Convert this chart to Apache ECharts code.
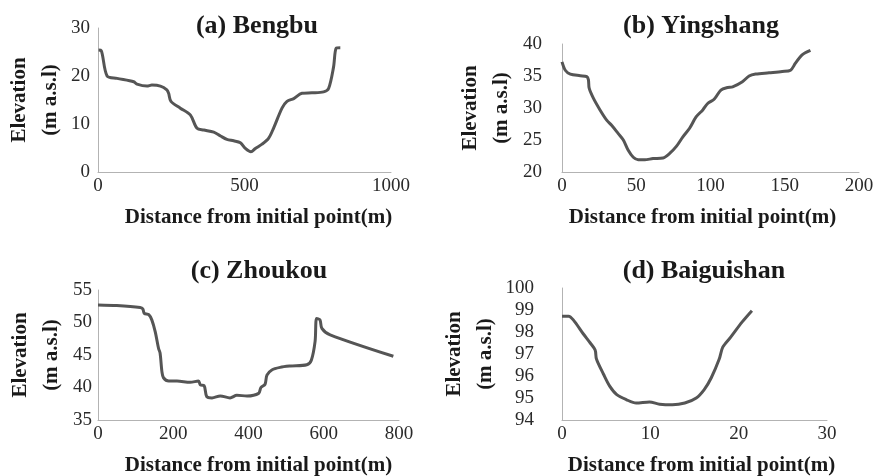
<!DOCTYPE html>
<html>
<head>
<meta charset="utf-8">
<script src="https://cdn.jsdelivr.net/npm/echarts@6/dist/echarts.min.js"></script>
<style>html,body{margin:0;padding:0;background:#fff}#c{width:874px;height:476px}</style>
</head>
<body>
<div id="c"></div>
<script>
// (a) Bengbu
var bengbuDist = [2, 11, 31, 65, 122, 133, 167, 184, 213, 235, 241, 249, 281, 315, 338, 361, 395, 418, 440, 463, 486, 503, 522, 537, 560, 582, 599, 628, 645, 668, 696, 730, 770, 787, 804, 813, 827];
var bengbuElev = [25.4, 25.3, 20.0, 19.5, 18.8, 18.3, 17.9, 18.1, 17.9, 17.1, 16.4, 14.7, 13.3, 11.9, 9.1, 8.75, 8.3, 7.5, 6.8, 6.5, 6.1, 4.9, 4.2, 4.9, 5.8, 7.0, 9.1, 13.3, 14.7, 15.3, 16.4, 16.5, 16.7, 17.4, 21.9, 25.8, 25.9];
// (b) Yingshang
var yingshangDist = [0, 2.2, 5.6, 12.3, 16.7, 17.8, 18.3, 21.2, 25.6, 30.1, 33.4, 37.9, 41.3, 44.6, 48, 51.3, 55.7, 61.3, 68, 72.5, 77, 81.4, 85.8, 90.3, 94.8, 98.1, 102.6, 107, 111.5, 114.9, 121.5, 126, 130.4, 139.4, 148.3, 153.9, 157.2, 161.7, 167.3];
var yingshangElev = [37.2, 35.9, 35.3, 35.05, 34.9, 34.4, 33.1, 31.5, 29.7, 28.1, 27.3, 26.0, 25.0, 23.4, 22.3, 21.9, 21.9, 22.1, 22.2, 22.9, 24.0, 25.5, 26.8, 28.6, 29.7, 30.7, 31.4, 32.8, 33.2, 33.3, 34.1, 35.0, 35.3, 35.5, 35.7, 35.9, 37.0, 38.3, 39.0];
// (c) Zhoukou
var zhoukouDist = [0, 50, 112, 119, 123, 135, 143, 152, 161, 165, 170, 174, 188, 210, 245, 267, 272, 282, 289, 303, 325, 351, 369, 396, 427, 433, 444, 449, 462, 484, 511, 555, 567, 577, 581, 590, 595, 617, 785];
var zhoukouElev = [52.7, 52.6, 52.3, 52.1, 51.4, 51.2, 50.4, 48.6, 46.0, 45.3, 42.4, 41.5, 41.0, 41.0, 40.8, 41.0, 40.4, 40.3, 38.6, 38.4, 38.7, 38.4, 38.8, 38.7, 39.1, 40.0, 40.5, 41.9, 42.7, 43.1, 43.3, 43.5, 44.2, 47.1, 50.6, 50.4, 49.1, 48.1, 44.8];
// (d) Baiguishan
var baiguishanDist = [0, 0.75, 1.3, 2.4, 3.2, 3.75, 3.9, 4.7, 5.4, 6.2, 7.3, 8.4, 9.9, 11.05, 12.5, 13.9, 15.2, 16.1, 16.9, 17.8, 18.2, 19.1, 20.4, 21.5];
var baiguishanElev = [98.72, 98.72, 98.54, 97.92, 97.5, 97.18, 96.77, 96.08, 95.54, 95.15, 94.92, 94.77, 94.82, 94.72, 94.69, 94.77, 95.0, 95.38, 95.92, 96.77, 97.31, 97.77, 98.46, 98.97];

var titles = ['(a) Bengbu', '(b) Yingshang', '(c) Zhoukou', '(d) Baiguishan'];
var xLabel = 'Distance from initial point(m)';
var yLabel = 'Elevation\n(m a.s.l)';
var xMin = [0, 0, 0, 0], xMax = [1000, 200, 800, 30], xStep = [500, 50, 200, 10];
var yMin = [0, 20, 35, 94], yMax = [30, 40, 55, 100], yStep = [10, 5, 5, 1];

function pairs(xs, ys) { return xs.map(function (x, i) { return [x, ys[i]]; }); }
var seriesData = [
  pairs(bengbuDist, bengbuElev),
  pairs(yingshangDist, yingshangElev),
  pairs(zhoukouDist, zhoukouElev),
  pairs(baiguishanDist, baiguishanElev)
];

// layout
var grids = [
  {left: 98, top: 28, width: 293, height: 144},
  {left: 562, top: 44, width: 297, height: 128},
  {left: 98, top: 290, width: 301, height: 130},
  {left: 562, top: 288, width: 265, height: 132}
];
var titlePos = [[257, 26], [701, 26], [259, 271], [704, 271]];
var yLabelMargin = [8, 20, 6, 28];
var yNameGap = [32, 45, 31, 61];
var xNameShift = [28, -16, 20, 14];

var FONT = '"Liberation Serif", "Times New Roman", serif';
var chart = echarts.init(document.getElementById('c'), null, {renderer: 'canvas'});
var option = {
  backgroundColor: '#fff',
  animation: false,
  grid: grids.map(function (g) { return Object.assign({containLabel: false, outerBoundsMode: 'none'}, g); }),
  graphic: titles.map(function (t, i) {
    return {type: 'text', x: titlePos[i][0], y: titlePos[i][1],
      style: {text: t, align: 'center', verticalAlign: 'middle', fill: '#1a1a1a',
        font: 'bold 26px ' + FONT}};
  }),
  xAxis: [0, 1, 2, 3].map(function (i) {
    return {
      type: 'value', gridIndex: i, min: xMin[i], max: xMax[i], interval: xStep[i],
      splitLine: {show: false}, axisTick: {show: false},
      axisLine: {show: true, lineStyle: {color: '#b3b3b3', width: 1}},
      axisLabel: {fontFamily: FONT, fontSize: 19, color: '#2a2a2a', margin: 5,
        formatter: function (v) { return String(v); }},
      name: xLabel, nameLocation: 'middle', nameGap: 35, nameMoveOverlap: false,
      nameTextStyle: {fontFamily: FONT, fontSize: 21, fontWeight: 'bold', color: '#1a1a1a',
        padding: xNameShift[i] > 0 ? [0, 0, 0, xNameShift[i]] : [0, -xNameShift[i], 0, 0]}
    };
  }),
  yAxis: [0, 1, 2, 3].map(function (i) {
    return {
      type: 'value', gridIndex: i, min: yMin[i], max: yMax[i], interval: yStep[i],
      splitLine: {show: false}, axisTick: {show: false},
      axisLine: {show: true, lineStyle: {color: '#b3b3b3', width: 1}},
      axisLabel: {fontFamily: FONT, fontSize: 19, color: '#2a2a2a', margin: yLabelMargin[i],
        formatter: function (v) { return String(v); }},
      name: yLabel, nameLocation: 'middle', nameRotate: 90, nameGap: yNameGap[i], nameMoveOverlap: false,
      nameTextStyle: {fontFamily: FONT, fontSize: 21, fontWeight: 'bold', color: '#1a1a1a', lineHeight: 31, align: 'center'}
    };
  }),
  series: seriesData.map(function (d, i) {
    return {
      type: 'line', xAxisIndex: i, yAxisIndex: i, data: d, showSymbol: false, smooth: 0.3,
      lineStyle: {color: '#555555', width: 3}
    };
  })
};
chart.setOption(option);
</script>
</body>
</html>
